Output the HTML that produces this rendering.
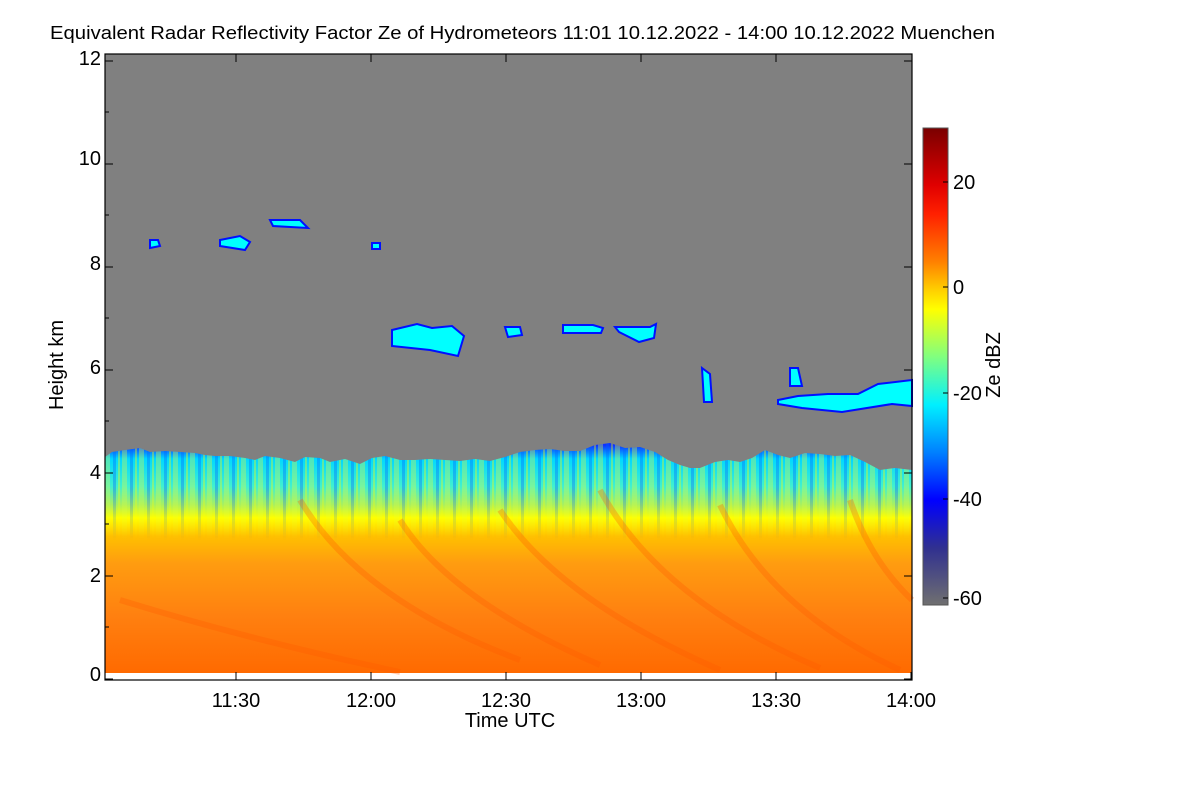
<!DOCTYPE html>
<html><head><meta charset="utf-8"><style>
body{margin:0;background:#fff;}
svg text{font-family:"Liberation Sans",Arial,sans-serif;fill:#000;}
</style></head><body>
<svg width="1200" height="800" xmlns="http://www.w3.org/2000/svg">
<defs>
<linearGradient id="pr" x1="0" y1="445" x2="0" y2="673" gradientUnits="userSpaceOnUse">
<stop offset="0" stop-color="#1030ff"/>
<stop offset="0.06" stop-color="#00d8ff"/>
<stop offset="0.18" stop-color="#40f0d0"/>
<stop offset="0.26" stop-color="#a8f060"/>
<stop offset="0.32" stop-color="#ffff00"/>
<stop offset="0.40" stop-color="#ffc000"/>
<stop offset="0.52" stop-color="#ff9c10"/>
<stop offset="0.75" stop-color="#ff8010"/>
<stop offset="1" stop-color="#ff6a00"/>
</linearGradient>
<linearGradient id="cb" x1="0" y1="128" x2="0" y2="605" gradientUnits="userSpaceOnUse">
<stop offset="0" stop-color="#7a0000"/>
<stop offset="0.12" stop-color="#e00000"/>
<stop offset="0.18" stop-color="#ff2000"/>
<stop offset="0.28" stop-color="#ff8000"/>
<stop offset="0.34" stop-color="#ffd000"/>
<stop offset="0.38" stop-color="#ffff00"/>
<stop offset="0.48" stop-color="#80ff80"/>
<stop offset="0.58" stop-color="#00f0ff"/>
<stop offset="0.68" stop-color="#0080ff"/>
<stop offset="0.78" stop-color="#0000ff"/>
<stop offset="0.88" stop-color="#303090"/>
<stop offset="1" stop-color="#707070"/>
</linearGradient>
<linearGradient id="fd" x1="0" y1="440" x2="0" y2="540" gradientUnits="userSpaceOnUse">
<stop offset="0" stop-color="#fff"/><stop offset="0.5" stop-color="#fff"/><stop offset="1" stop-color="#000"/>
</linearGradient>
<mask id="mk"><rect x="105" y="440" width="807" height="100" fill="url(#fd)"/></mask>
<pattern id="st" x="105" y="0" width="17" height="10" patternUnits="userSpaceOnUse">
<rect x="0" y="0" width="5" height="10" fill="#e0ff40"/>
<rect x="8" y="0" width="3" height="10" fill="#0060ff"/>
<rect x="13" y="0" width="2" height="10" fill="#ffff00"/>
</pattern>
<clipPath id="pc"><path d="M105,457 L112,452 L125,450 L140,448 L150,452 L165,451 L180,452 L195,453 L205,455 L215,456 L230,456 L245,458 L255,460 L265,456 L280,458 L295,462 L305,457 L320,458 L330,462 L345,459 L360,464 L372,458 L385,456 L400,460 L415,460 L430,459 L445,460 L460,461 L475,459 L490,461 L505,457 L520,452 L535,450 L550,449 L565,451 L580,451 L595,445 L610,443 L625,448 L640,447 L655,452 L668,460 L680,465 L690,468 L700,468 L715,462 L728,460 L740,462 L752,458 L765,450 L778,455 L790,458 L805,453 L820,454 L835,456 L850,455 L865,462 L880,470 L895,468 L912,470 L912,673 L105,673 Z"/></clipPath>
</defs>
<text x="50" y="39" font-size="18" textLength="945" lengthAdjust="spacingAndGlyphs">Equivalent Radar Reflectivity Factor Ze of Hydrometeors    11:01 10.12.2022 - 14:00 10.12.2022 Muenchen</text>
<rect x="105" y="54" width="807" height="626" fill="#fff"/>
<rect x="105" y="54" width="807" height="619" fill="#808080"/>
<path d="M105,457 L112,452 L125,450 L140,448 L150,452 L165,451 L180,452 L195,453 L205,455 L215,456 L230,456 L245,458 L255,460 L265,456 L280,458 L295,462 L305,457 L320,458 L330,462 L345,459 L360,464 L372,458 L385,456 L400,460 L415,460 L430,459 L445,460 L460,461 L475,459 L490,461 L505,457 L520,452 L535,450 L550,449 L565,451 L580,451 L595,445 L610,443 L625,448 L640,447 L655,452 L668,460 L680,465 L690,468 L700,468 L715,462 L728,460 L740,462 L752,458 L765,450 L778,455 L790,458 L805,453 L820,454 L835,456 L850,455 L865,462 L880,470 L895,468 L912,470 L912,673 L105,673 Z" fill="url(#pr)"/>
<g clip-path="url(#pc)"><rect x="105" y="440" width="807" height="100" fill="url(#st)" opacity="0.35" mask="url(#mk)"/></g>
<g fill="none" stroke="#ff5a00" stroke-width="6" opacity="0.3">
<path d="M300,500 Q360,600 520,660"/><path d="M500,510 Q560,600 720,670"/><path d="M600,490 Q660,600 820,668"/>
<path d="M720,505 Q770,610 900,670"/><path d="M850,500 Q870,560 912,600"/><path d="M120,600 Q250,640 400,672"/>
<path d="M400,520 Q450,600 600,665"/>
</g>
<g fill="#00ffff" stroke="#0010ff" stroke-width="2">
<path d="M150,240 l8,0 l2,6 l-10,2 z"/><path d="M220,240 l20,-4 l10,6 l-5,8 l-25,-4 z"/>
<path d="M270,220 l30,0 l8,8 l-35,-2 z"/><path d="M372,243 l8,0 l0,6 l-8,0 z"/>
<path d="M392,330 l25,-6 l15,4 l20,-2 l12,10 l-6,20 l-28,-6 l-38,-4 z"/>
<path d="M505,327 l15,0 l2,8 l-14,2 z"/><path d="M563,325 l30,0 l10,3 l-2,5 l-38,0 z"/>
<path d="M615,327 l35,0 l6,-3 l-2,14 l-15,4 l-20,-10 z"/>
<path d="M702,368 l8,6 l2,28 l-8,0 z"/><path d="M790,368 l8,0 l4,18 l-12,0 z"/>
<path d="M778,400 l20,-4 l30,-2 l30,0 l20,-10 l34,-4 l0,26 l-20,-2 l-50,8 l-40,-4 l-24,-4 z"/>
</g>
<rect x="105" y="54" width="807" height="626" fill="none" stroke="#000" stroke-width="1.2"/>
<g stroke="#000" stroke-width="1">
<path d="M105,679h8M105,576h8M105,473h8M105,370h8M105,267h8M105,164h8M105,61h8"/>
<path d="M105,627h4M105,524h4M105,421h4M105,318h4M105,215h4M105,112h4"/>
<path d="M912,679h-8M912,576h-8M912,473h-8M912,370h-8M912,267h-8M912,164h-8M912,61h-8"/>
<path d="M236,680v-8M371,680v-8M506,680v-8M641,680v-8M776,680v-8M911,680v-8"/>
<path d="M236,54v8M371,54v8M506,54v8M641,54v8M776,54v8"/>
</g>
<g font-size="20" text-anchor="end">
<text x="101" y="681">0</text><text x="101" y="582">2</text><text x="101" y="479">4</text>
<text x="101" y="374">6</text><text x="101" y="270">8</text><text x="101" y="165">10</text><text x="101" y="65">12</text>
</g>
<g font-size="20" text-anchor="middle">
<text x="236" y="707">11:30</text><text x="371" y="707">12:00</text><text x="506" y="707">12:30</text>
<text x="641" y="707">13:00</text><text x="776" y="707">13:30</text><text x="911" y="707">14:00</text>
<text x="510" y="727">Time UTC</text>
</g>
<text transform="translate(63,365) rotate(-90)" font-size="20" text-anchor="middle">Height km</text>
<rect x="923" y="128" width="25" height="477" fill="url(#cb)" stroke="#555" stroke-width="1"/>
<g stroke="#000"><path d="M948,182h-5M948,287h-5M948,393h-5M948,499h-5M948,598h-5"/></g>
<g font-size="20">
<text x="953" y="189">20</text><text x="953" y="294">0</text><text x="953" y="400">-20</text>
<text x="953" y="506">-40</text><text x="953" y="605">-60</text>
</g>
<text transform="translate(1000,365) rotate(-90)" font-size="20" text-anchor="middle">Ze dBZ</text>
</svg>
</body></html>
